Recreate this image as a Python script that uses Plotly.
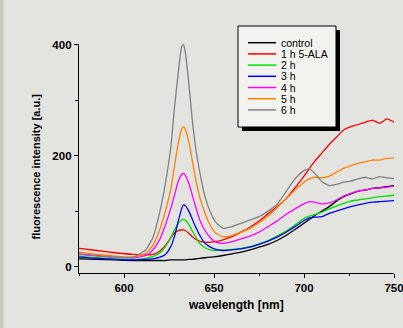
import plotly.graph_objects as go

wavelength = [575, 585, 595, 605, 612, 616, 620, 623, 626, 628, 630, 632, 633, 634, 636, 638, 640,
              642, 645, 648, 651, 655, 660, 665, 670, 675, 680, 685, 690, 695, 700, 703, 706, 710,
              714, 718, 722, 726, 730, 734, 738, 742, 746, 750]

control = [14, 13, 12, 11, 11, 11, 11, 11, 12, 12, 12, 12, 12, 12, 13, 13, 14, 15, 16, 17, 18, 20,
           23, 26, 30, 35, 40, 47, 56, 67, 78, 85, 92, 100, 108, 118, 126, 131, 136, 138, 141, 142, 144, 146]
h1 = [33, 29, 25, 22, 21, 22, 28, 38, 52, 60, 65, 66, 66, 65, 60, 54, 49, 46, 44, 44, 45, 48,
      54, 62, 71, 82, 95, 108, 122, 142, 163, 177, 190, 205, 220, 233, 246, 252, 256, 260, 264, 258, 266, 260]
h2 = [19, 16, 14, 13, 15, 18, 25, 36, 52, 66, 77, 84, 85, 84, 76, 64, 52, 42, 34, 30, 29, 30,
      31, 33, 36, 41, 47, 55, 64, 75, 87, 91, 94, 98, 104, 109, 114, 118, 120, 122, 124, 126, 127, 129]
h3 = [17, 15, 13, 12, 13, 14, 17, 22, 36, 54, 80, 104, 111, 110, 100, 85, 70, 57, 42, 35, 31, 29,
      30, 32, 35, 40, 46, 53, 62, 72, 83, 88, 89, 90, 96, 100, 104, 108, 111, 114, 116, 117, 118, 119]
h4 = [23, 20, 17, 16, 20, 30, 50, 75, 105, 128, 152, 166, 168, 165, 150, 128, 106, 85, 65, 52, 44, 42,
      45, 50, 55, 62, 72, 82, 94, 104, 113, 117, 116, 113, 115, 120, 127, 132, 136, 138, 141, 142, 143, 145]
h5 = [26, 22, 19, 17, 24, 38, 68, 100, 140, 180, 220, 248, 252, 248, 225, 190, 155, 126, 96, 74, 60, 54,
      56, 62, 69, 79, 91, 106, 122, 138, 152, 158, 161, 160, 163, 170, 177, 182, 186, 189, 192, 192, 195, 196]
h6 = [22, 19, 17, 17, 30, 52, 100, 150, 215, 285, 345, 395, 400, 388, 330, 262, 210, 172, 126, 98, 80, 69,
      72, 78, 84, 90, 100, 112, 135, 158, 173, 176, 168, 153, 146, 148, 152, 154, 158, 161, 158, 162, 160, 159]

series_names = ["control", "1 h 5-ALA", "2 h", "3 h", "4 h", "5 h", "6 h"]
series_values = [control, h1, h2, h3, h4, h5, h6]
series_colors = ["#000000", "#ff0000", "#00e000", "#0000ff", "#ff00ff", "#ff8000", "#808080"]

x_ticks = [600, 650, 700, 750]
y_ticks = [0, 200, 400]

W, H = 403, 328
L, R, T, B = 79, 394, 44, 273
FONT = "Liberation Sans, Arial, sans-serif"
BG = "#e3e3df"


def px2x(px):
    return (px - L) / (R - L)


def py2y(py):
    return (B - py) / (B - T)


fig = go.Figure()
for name, vals, col in zip(series_names, series_values, series_colors):
    fig.add_trace(go.Scatter(x=wavelength, y=vals, mode="lines", name=name,
                             line=dict(color=col, width=1.3, shape="spline", smoothing=0.5),
                             showlegend=False))

shapes = [
    # darker left edge of the scanned picture
    dict(type="rect", xref="paper", yref="paper", x0=px2x(-2), x1=px2x(3.5), y0=py2y(H + 2), y1=py2y(-2),
         fillcolor="#c9c9bf", line=dict(width=0), layer="below"),
    # legend shadow
    dict(type="rect", xref="paper", yref="paper", x0=px2x(242), x1=px2x(340), y0=py2y(131), y1=py2y(30),
         fillcolor="#000000", line=dict(width=0)),
    # legend box
    dict(type="rect", xref="paper", yref="paper", x0=px2x(238), x1=px2x(336), y0=py2y(127), y1=py2y(26),
         fillcolor="#f2f2ef", line=dict(color="#000000", width=1)),
]
annotations = []
for i, (name, col) in enumerate(zip(series_names, series_colors)):
    yy = py2y(42.7 + i * 11.2)
    shapes.append(dict(type="line", xref="paper", yref="paper", x0=px2x(248), x1=px2x(276), y0=yy, y1=yy,
                       line=dict(color=col, width=1.5)))
    annotations.append(dict(text=name, xref="paper", yref="paper", x=px2x(279), y=yy, xanchor="left",
                            yanchor="middle", showarrow=False, font=dict(family=FONT, size=10.5, color="#000")))

annotations.append(dict(text="<b>wavelength [nm]</b>", xref="paper", yref="paper", x=px2x(236), y=py2y(305),
                        xanchor="center", yanchor="middle", showarrow=False,
                        font=dict(family=FONT, size=12, color="#000")))
annotations.append(dict(text="<b>fluorescence intensity [a.u.]</b>", xref="paper", yref="paper", x=px2x(35),
                        y=py2y(166.5), xanchor="center", yanchor="middle", textangle=-90, showarrow=False,
                        font=dict(family=FONT, size=11, color="#000")))

fig.update_layout(
    width=W, height=H,
    margin=dict(l=L, r=W - R, t=T, b=H - B, pad=0, autoexpand=False),
    paper_bgcolor=BG, plot_bgcolor=BG,
    showlegend=False,
    shapes=shapes, annotations=annotations,
    font=dict(family=FONT, color="#000"),
)
fig.update_xaxes(range=[575, 750], showgrid=False, zeroline=False, showline=True, linecolor="#000",
                 linewidth=1.3, ticks="outside", ticklen=4, tickwidth=1.2, tickcolor="#000",
                 tickvals=x_ticks, ticktext=[f"<b>{v}</b>" for v in x_ticks], automargin=False,
                 tickfont=dict(family=FONT, size=11.5, color="#000"), ticklabeloverflow="allow",
                 minor=dict(ticks="outside", ticklen=2, tickwidth=1, tickcolor="#000", dtick=25, tick0=575,
                            showgrid=False))
fig.update_yaxes(range=[-11.5, 401], showgrid=False, zeroline=False, showline=True, linecolor="#000",
                 linewidth=1.3, ticks="outside", ticklen=4, tickwidth=1.2, tickcolor="#000",
                 tickvals=y_ticks, ticktext=[f"<b>{v}</b>" for v in y_ticks], automargin=False,
                 tickfont=dict(family=FONT, size=11.5, color="#000"), ticklabeloverflow="allow",
                 minor=dict(ticks="outside", ticklen=3, tickwidth=1, tickcolor="#000", dtick=100, tick0=0,
                            showgrid=False))

fig.write_html("out.html", config={"displayModeBar": False},
               post_script="document.body.style.margin='0';document.body.style.padding='0';"
                           "document.documentElement.style.background='" + BG + "';")
